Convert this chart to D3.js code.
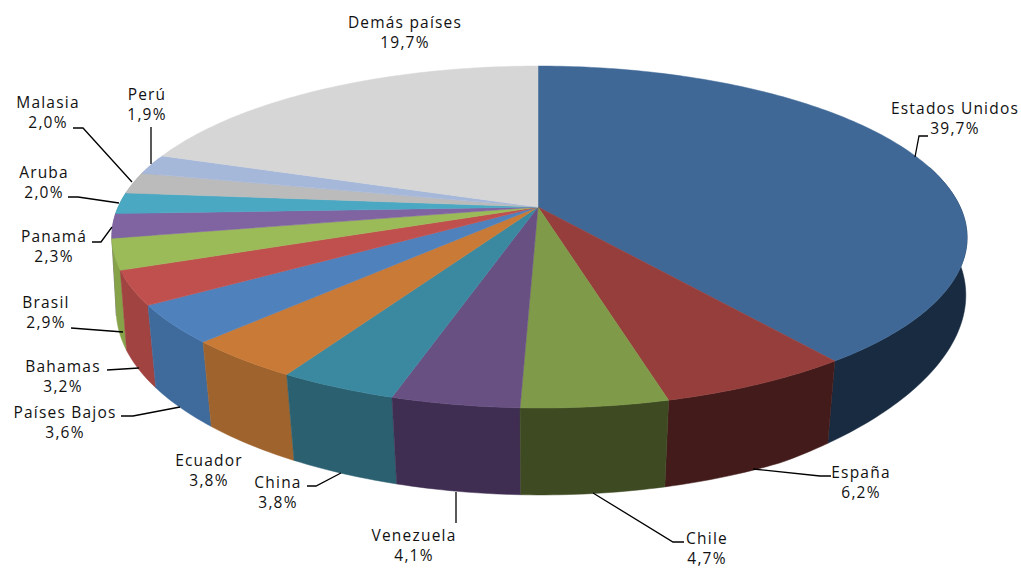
<!DOCTYPE html>
<html><head><meta charset="utf-8"><script src="https://cdn.jsdelivr.net/npm/d3@7"></script>
<style>html,body{margin:0;background:#fff}svg{display:block}</style></head><body><svg id="c" width="1021" height="569"></svg>
<script>
const categories=["Estados Unidos","España","Chile","Venezuela","China","Ecuador","Países Bajos","Bahamas","Brasil","Panamá","Aruba","Malasia","Perú","Demás países"];
const values=[39.7,6.2,4.7,4.1,3.8,3.8,3.6,3.2,2.9,2.3,2.0,2.0,1.9,19.7];
const topColors=["#3F6897","#953E3C","#7F9A48","#695083","#3A89A1","#C87A36","#4F81BD","#C0504D","#9BBB59","#8064A2","#4AA8C3","#BBBBBB","#A6B8DA","#D6D6D6"];
const wallColors=["#182B41","#431B1A","#3E4A22","#3F2E52","#2B6070","#9F632D","#3F6A9C","#A04341","#86A34A","#6A5387","#3D8BA0","#9C9C9C","#8A99B5","#B2B2B2"];
const labelCenters=[[955,108],[861,472],[707,538],[414,535],[278,482],[209,460],[65,412],[63,366],[46,302],[54,236],[44,172],[48,102],[147,94],[405,22]];
const leaderPaths=[[[915,157],[919,136],[928,136]],[[753,469],[820,476],[831,476]],[[593,493],[673,542],[684,542]],[[456,492],[456,523]],[[341,473],[316,486],[307,486]],null,[[180,407],[133,416],[121,416]],[[139,368],[107,370]],[[123,332],[71,328]],[[112,227],[101,242],[92,242]],[[119,203],[78,197],[68,197]],[[132,182],[83,128],[73,128]],[[151,164],[151,127]],null];

const svg=d3.select("#c");
const pie=d3.pie().sort(null).value(d=>d)(values);
const hub=[538,207];
const topP=t=>{const u=Math.sin(t),v=-Math.cos(t),w=1-0.1755*v;return [538+(421*u+1.2*(v+1))/w,207+165.7*v/w];};
const botP=t=>{const u=Math.sin(t),v=-Math.cos(t),w=1-0.15*v;return [541+420*u/w,282+181*v/w-30*Math.max(0,u-0.5)];};
const arcPts=(f,t0,t1)=>{const n=Math.max(2,Math.ceil(Math.abs(t1-t0)*60));return d3.range(n+1).map(i=>f(t0+(t1-t0)*i/n));};
const line=d3.line();
const LO=Math.PI*0.42, HI=Math.PI*1.6;
const walls=pie.map((d,i)=>({d,i})).filter(o=>o.d.endAngle>LO&&o.d.startAngle<HI)
  .sort((a,b)=>Math.abs((b.d.startAngle+b.d.endAngle)/2-Math.PI)-Math.abs((a.d.startAngle+a.d.endAngle)/2-Math.PI));
svg.append("g").selectAll("path").data(walls).join("path")
  .attr("d",o=>{const s=Math.max(o.d.startAngle,LO),e=Math.min(o.d.endAngle,HI);
    return line([...arcPts(topP,s,e),...arcPts(botP,e,s)])+"Z";})
  .attr("fill",o=>wallColors[o.i]).attr("stroke",o=>wallColors[o.i]).attr("stroke-width",0.5);
svg.append("g").selectAll("path").data(pie).join("path")
  .attr("d",d=>line([hub,...arcPts(topP,d.startAngle,d.endAngle)])+"Z")
  .attr("fill",(d,i)=>topColors[i]).attr("stroke",(d,i)=>topColors[i]).attr("stroke-width",0.5);
svg.append("g").selectAll("path").data(leaderPaths.filter(Boolean)).join("path")
  .attr("d",line).attr("fill","none").attr("stroke","#000").attr("stroke-width",1.3);
const fmt=v=>v.toFixed(1).replace(".",",")+"%";
const lab=svg.append("g").attr("font-family","'Open Sans',sans-serif").attr("font-size",15.5).attr("fill","#111").attr("text-anchor","middle").attr("letter-spacing",1.2);
categories.forEach((c,i)=>{const [x,y]=labelCenters[i];
  lab.append("text").attr("x",x).attr("y",y+5.5).text(c);
  lab.append("text").attr("x",x).attr("y",y+26).text(fmt(values[i]));});
</script></body></html>
